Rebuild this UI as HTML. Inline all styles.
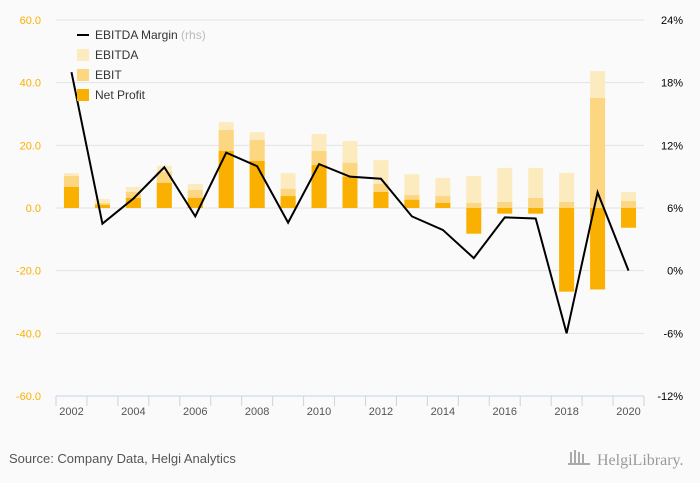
<!DOCTYPE html>
<html><head><meta charset="utf-8"><style>
body{margin:0;background:#fafafa;font-family:"Liberation Sans",sans-serif}
svg{display:block}
</style></head><body>
<svg width="700" height="483" viewBox="0 0 700 483">
<rect width="700" height="483" fill="#fafafa"/>
<g id="grid"></g><g id="bars"></g><g id="line"></g><g id="axes"></g>
<g font-size="12" fill="#333">
<line x1="77" y1="35" x2="89" y2="35" stroke="#000" stroke-width="2"/>
<text x="95" y="39">EBITDA Margin <tspan fill="#bbb">(rhs)</tspan></text>
<rect x="77" y="49" width="12" height="12" fill="#fdebc0"/><text x="95" y="59">EBITDA</text>
<rect x="77" y="69" width="12" height="12" fill="#fcd680"/><text x="95" y="79">EBIT</text>
<rect x="77" y="89" width="12" height="12" fill="#f9b000"/><text x="95" y="99">Net Profit</text>
</g>
<text x="9" y="463" font-size="13" fill="#555">Source: Company Data, Helgi Analytics</text>
<text x="597" y="465" font-size="16" fill="#999" font-family="Liberation Serif,serif">HelgiLibrary.</text>
<g fill="#aaa"><rect x="570" y="452" width="2" height="12"/><rect x="574" y="450" width="2" height="14"/><rect x="578" y="452" width="2" height="12"/><rect x="582" y="454" width="2" height="10"/><rect x="568" y="463" width="22" height="2"/></g>
</svg>
<script>
const years=[2002,2003,2004,2005,2006,2007,2008,2009,2010,2011,2012,2013,2014,2015,2016,2017,2018,2019,2020];
const ebitda=[11.1,2.9,6.7,13.5,7.7,27.4,24.2,11.1,23.6,21.4,15.3,10.8,9.6,10.2,12.8,12.8,11.2,43.7,5.1];
const ebit=[10.2,1.5,5.1,11.5,5.7,24.9,21.7,6.1,18.2,14.4,7.7,4.1,3.8,1.6,1.9,3.2,1.9,35.1,2.2];
const netProfit=[6.7,1.0,3.2,8.0,3.2,18.2,15.0,3.8,13.7,10.0,5.1,2.6,1.6,-8.2,-1.8,-1.8,-26.7,-26.0,-6.3];
const margin=[19.0,4.5,6.9,9.9,5.2,11.3,10.0,4.6,10.2,9.0,8.8,5.2,3.9,1.2,5.1,5.0,-6.0,7.5,0.0];
const leftTicks=[60,40,20,0,-20,-40,-60];
const rightTicks=[24,18,12,6,0,-6,-12];
const NS="http://www.w3.org/2000/svg";
const X0=56,X1=644,Y0=20,Y1=396;
const bw=(X1-X0)/years.length;
const xc=i=>X0+bw*(i+0.5);
const yl=v=>Y0+(60-v)/120*(Y1-Y0);
const yr=v=>Y0+(24-v)/36*(Y1-Y0);
function mk(tag,attrs,parent){const e=document.createElementNS(NS,tag);for(const k in attrs)e.setAttribute(k,attrs[k]);document.getElementById(parent).appendChild(e);return e;}
leftTicks.forEach((t,i)=>{
 if(t!==-60){const g=mk('line',{x1:X0,x2:X1,y1:yl(t),y2:yl(t),stroke:'#e3e3e3'},'grid');
 
 }
 const lt=mk('text',{x:41,y:yl(t)+4,'text-anchor':'end','font-size':11,fill:'#f9b000'},'axes');lt.textContent=t.toFixed(1);
 
 
 const rt=mk('text',{x:683,y:yr(rightTicks[i])+4,'text-anchor':'end','font-size':11,fill:'#000'},'axes');rt.textContent=rightTicks[i]+'%';
 
 
});
const ax=mk('line',{x1:X0,x2:X1,y1:Y1,y2:Y1,stroke:'#c8d4e8'},'axes');


for(let i=0;i<=years.length;i++){mk('line',{x1:X0+bw*i,x2:X0+bw*i,y1:Y1,y2:Y1+10,stroke:'#c8d4e8'},'axes');}
years.forEach((y,i)=>{
 if(i%2===0){const t=mk('text',{x:xc(i),y:Y1+19,'text-anchor':'middle','font-size':11,fill:'#555'},'axes');t.textContent=y;
 
 }
 [[ebitda,'#fdebc0','bar-ebitda'],[ebit,'#fcd680','bar-ebit'],[netProfit,'#f9b000','bar-net-profit']].forEach(([arr,c,n])=>{
  const v=arr[i];const r=mk('rect',{x:xc(i)-7.5,width:15,y:Math.min(yl(v),yl(0)),height:Math.abs(yl(v)-yl(0)),fill:c},'bars');
  
  
 });
});
const pl=mk('polyline',{points:margin.map((m,i)=>xc(i)+','+yr(m)).join(' '),fill:'none',stroke:'#000','stroke-width':2},'line');


</script>
</body></html>
